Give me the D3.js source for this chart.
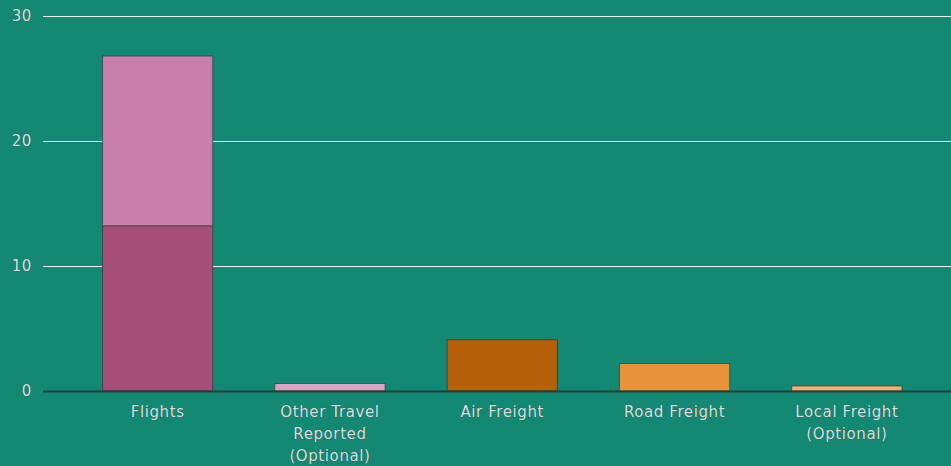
<!DOCTYPE html>
<html>
<head>
<meta charset="utf-8">
<script src="https://cdn.jsdelivr.net/npm/d3@7"></script>
<style>
  html, body { margin: 0; padding: 0; background: #138873; }
  svg { display: block; }
  .tick-label { font-family: "DejaVu Sans", sans-serif; font-size: 15px; letter-spacing: 0.6px; fill: #dcdcdc; stroke: rgba(20,40,35,0.4); stroke-width: 0.7px; paint-order: stroke; }
</style>
</head>
<body>
<svg id="chart" width="951" height="466"></svg>
<script>
// Emission categories and their stacked segment values
const categories = ["Flights", "Other Travel Reported (Optional)", "Air Freight", "Road Freight", "Local Freight (Optional)"];
const categoryLines = [["Flights"], ["Other Travel", "Reported", "(Optional)"], ["Air Freight"], ["Road Freight"], ["Local Freight", "(Optional)"]];
const baseValues = [13.2, 0.6, 4.1, 2.2, 0.4];
const upperValues = [13.6, 0, 0, 0, 0];
const baseColors = ["#a65079", "#d9a3c1", "#b6600a", "#e8923a", "#eeb171"];
const upperColors = ["#c680a9", "#d9a3c1", "#b6600a", "#e8923a", "#eeb171"];
const yTicks = [0, 10, 20, 30];

const svg = d3.select("#chart");
const W = 951, H = 466;

svg.append("rect").attr("width", W).attr("height", H).attr("fill", "#138873");

const y = d3.scaleLinear().domain([0, 30]).range([391, 16]);
const x = d3.scaleBand().domain(categories).range([71.5, 933]).paddingInner(0.36).paddingOuter(0.18);

// Horizontal gridlines
svg.append("g").selectAll("line").data(yTicks.filter(t => t > 0)).join("line")
  .attr("x1", 43).attr("x2", W)
  .attr("y1", d => Math.round(y(d)) + 0.5).attr("y2", d => Math.round(y(d)) + 0.5)
  .attr("stroke", "#f2f2f2").attr("stroke-width", 1);

// Y tick labels
svg.append("g").selectAll("text").data(yTicks).join("text")
  .attr("class", "tick-label")
  .attr("x", 32).attr("y", d => y(d)).attr("dy", "0.35em")
  .attr("text-anchor", "end")
  .text(d => d);

// Stacked bars
const stackData = categories.map((c, i) => ({ cat: c, base: baseValues[i], upper: upperValues[i], i }));
const bars = svg.append("g");
bars.selectAll("rect.upper").data(stackData.filter(d => d.upper > 0)).join("rect")
  .attr("class", "upper")
  .attr("x", d => x(d.cat)).attr("width", x.bandwidth())
  .attr("y", d => y(d.base + d.upper)).attr("height", d => y(d.base) - y(d.base + d.upper))
  .attr("fill", d => upperColors[d.i])
  .attr("stroke", "rgba(30,50,45,0.6)").attr("stroke-width", 1);
bars.selectAll("rect.base").data(stackData).join("rect")
  .attr("class", "base")
  .attr("x", d => x(d.cat)).attr("width", x.bandwidth())
  .attr("y", d => y(d.base)).attr("height", d => y(0) - y(d.base))
  .attr("fill", d => baseColors[d.i])
  .attr("stroke", "rgba(30,50,45,0.6)").attr("stroke-width", 1);

// Baseline
svg.append("line")
  .attr("x1", 43).attr("x2", W)
  .attr("y1", y(0) + 0.5).attr("y2", y(0) + 0.5)
  .attr("stroke", "#1e3f38").attr("stroke-width", 2);

// Category labels
const xl = svg.append("g").selectAll("text").data(categories).join("text")
  .attr("class", "tick-label")
  .attr("x", d => x(d) + x.bandwidth() / 2)
  .attr("y", 417)
  .attr("text-anchor", "middle");
xl.each(function(d, i) {
  d3.select(this).selectAll("tspan").data(categoryLines[i]).join("tspan")
    .attr("x", x(d) + x.bandwidth() / 2)
    .attr("dy", (t, j) => j === 0 ? 0 : 22)
    .text(t => t);
});
</script>
</body>
</html>
